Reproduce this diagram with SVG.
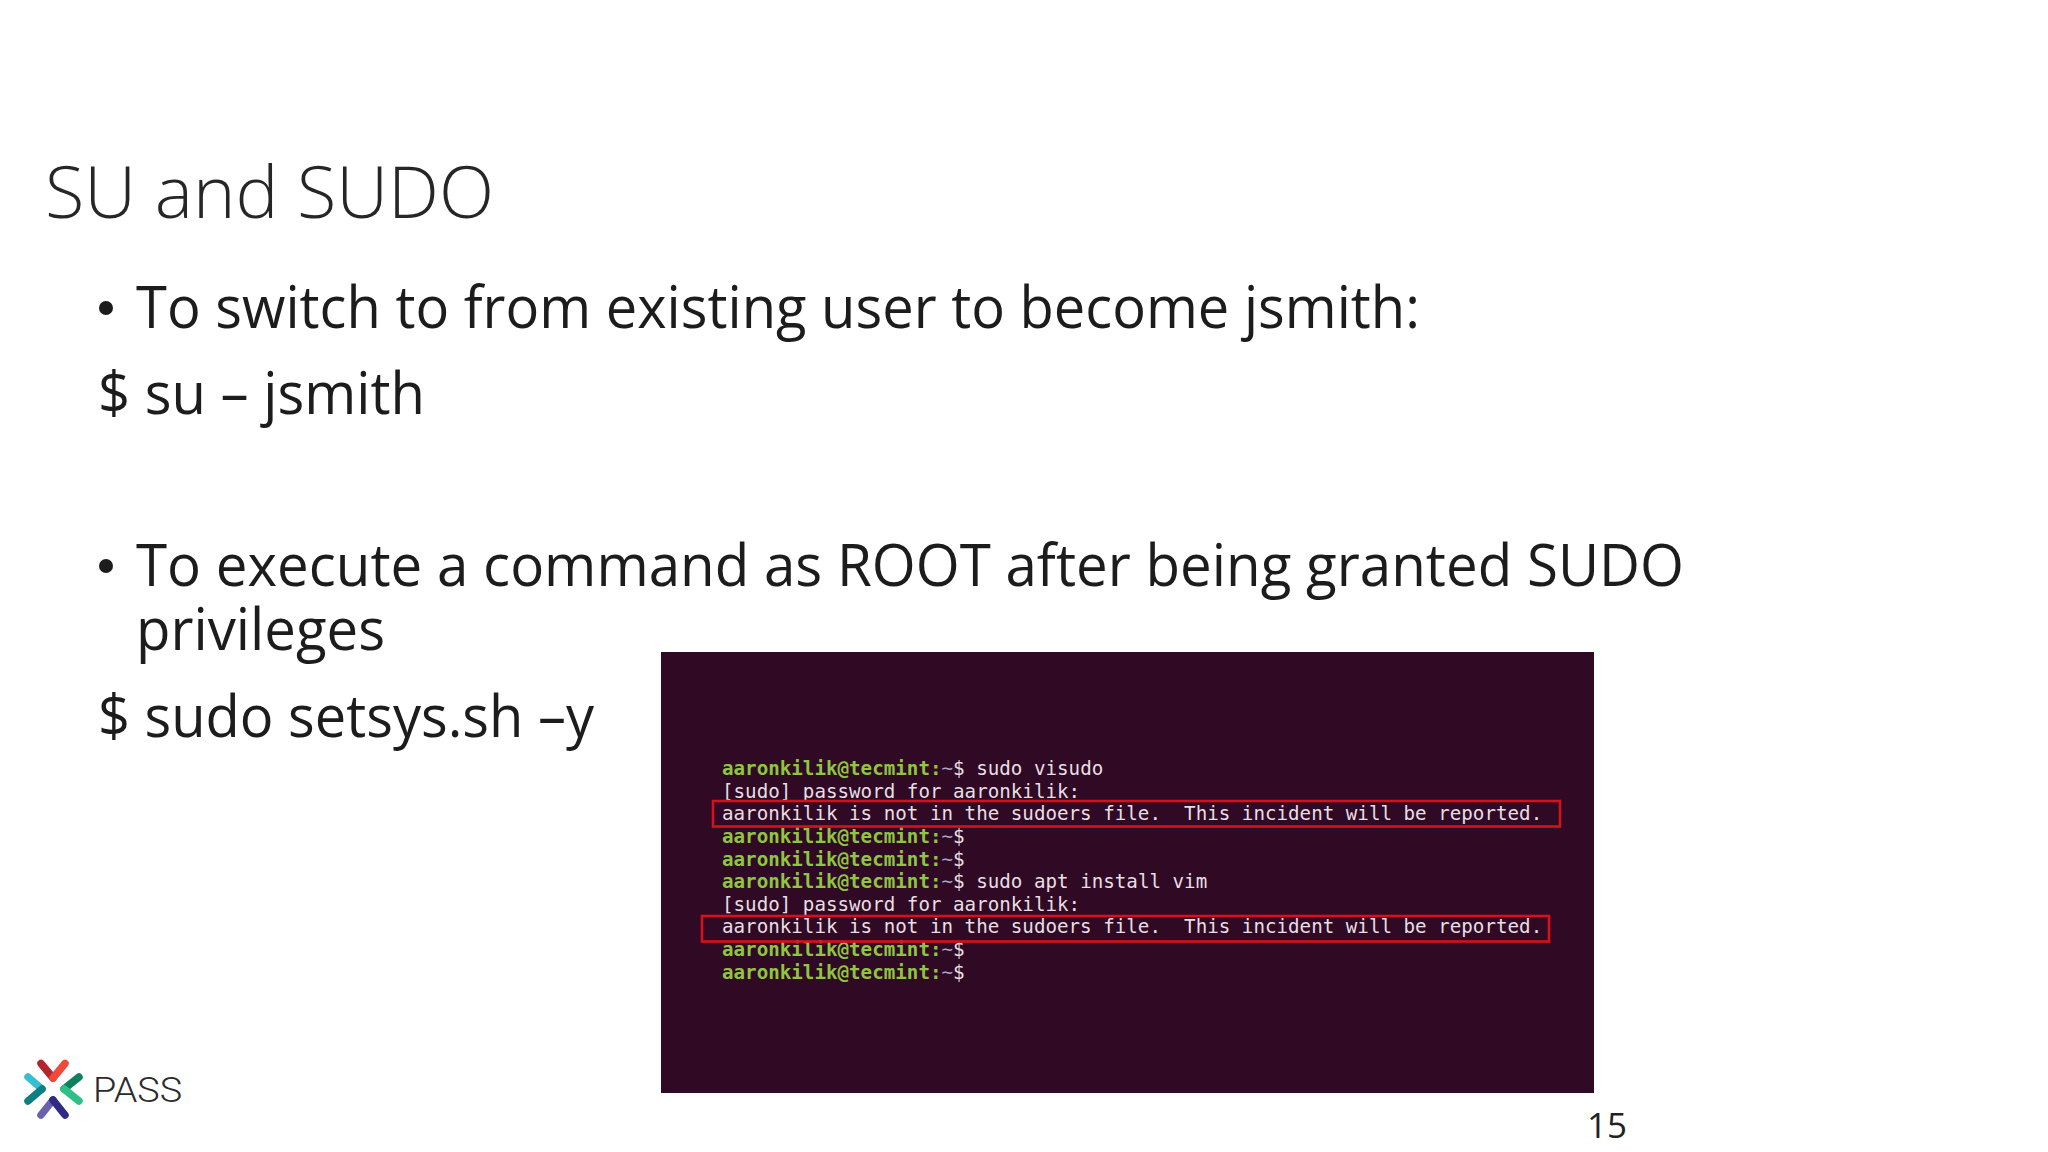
<svg xmlns="http://www.w3.org/2000/svg" width="2048" height="1152" viewBox="0 0 2048 1152">
<style>
.b{font-family:"Open Sans","Noto Sans",sans-serif;font-size:58px;fill:#1c1c1c}
.t{font-family:"DejaVu Sans Mono","Liberation Mono",monospace;font-size:19.2px;fill:#e6dfe3;white-space:pre}
.g{fill:#8ec63f;font-weight:bold}
.p{fill:#a8a8c8}
.r{fill:none;stroke:#d8101c;stroke-width:2.6}
.c{fill:none;stroke-width:7.5;stroke-linecap:round}
</style>
<rect width="2048" height="1152" fill="#fff"/>
<text id="title" x="45" y="218" font-family="'Open Sans','Noto Sans',sans-serif" font-weight="300" font-size="72" fill="#262626" textLength="449" lengthAdjust="spacingAndGlyphs">SU and SUDO</text>
<g id="body">
<circle cx="106" cy="308" r="7" fill="#1c1c1c"/>
<text class="b" x="136" y="328" textLength="1284" lengthAdjust="spacingAndGlyphs">To switch to from existing user to become jsmith:</text>
<text class="b" x="98" y="414" textLength="327" lengthAdjust="spacingAndGlyphs">$ su – jsmith</text>
<circle cx="106" cy="566" r="7" fill="#1c1c1c"/>
<text class="b" x="136" y="586" textLength="1548" lengthAdjust="spacingAndGlyphs">To execute a command as ROOT after being granted SUDO</text>
<text class="b" x="136" y="650" textLength="249" lengthAdjust="spacingAndGlyphs">privileges</text>
<text class="b" x="98" y="737" textLength="496" lengthAdjust="spacingAndGlyphs">$ sudo setsys.sh –y</text>
</g>
<g id="terminal">
<rect x="661" y="652" width="933" height="441" fill="#300a24"/>
<text class="t" x="722" y="775"><tspan class="g">aaronkilik@tecmint</tspan><tspan class="g">:</tspan><tspan class="p">~</tspan>$ sudo visudo</text>
<text class="t" x="722" y="798">[sudo] password for aaronkilik:</text>
<text class="t" x="722" y="820" xml:space="preserve">aaronkilik is not in the sudoers file.  This incident will be reported.</text>
<text class="t" x="722" y="843"><tspan class="g">aaronkilik@tecmint</tspan><tspan class="g">:</tspan><tspan class="p">~</tspan>$</text>
<text class="t" x="722" y="866"><tspan class="g">aaronkilik@tecmint</tspan><tspan class="g">:</tspan><tspan class="p">~</tspan>$</text>
<text class="t" x="722" y="888"><tspan class="g">aaronkilik@tecmint</tspan><tspan class="g">:</tspan><tspan class="p">~</tspan>$ sudo apt install vim</text>
<text class="t" x="722" y="911">[sudo] password for aaronkilik:</text>
<text class="t" x="722" y="933" xml:space="preserve">aaronkilik is not in the sudoers file.  This incident will be reported.</text>
<text class="t" x="722" y="956"><tspan class="g">aaronkilik@tecmint</tspan><tspan class="g">:</tspan><tspan class="p">~</tspan>$</text>
<text class="t" x="722" y="979"><tspan class="g">aaronkilik@tecmint</tspan><tspan class="g">:</tspan><tspan class="p">~</tspan>$</text>
<rect class="r" x="713" y="801" width="847" height="25.5"/>
<rect class="r" x="702" y="916" width="847" height="25.5"/>
</g>
<g id="logo">
<path class="c" stroke="#b5232f" d="M41 1063.5L53 1078"/>
<path class="c" stroke="#ef4a3c" d="M53 1078L65 1063.5"/>
<path class="c" stroke="#0e8060" d="M79 1077L64 1089"/>
<path class="c" stroke="#2fc088" d="M64 1089L79 1101"/>
<path class="c" stroke="#6a60b0" d="M41 1115L53 1100"/>
<path class="c" stroke="#2e2a85" d="M53 1100L65 1115"/>
<path class="c" stroke="#35bfd0" d="M28 1077L42 1089"/>
<path class="c" stroke="#0d7f80" d="M42 1089L28 1101"/>
<text x="93" y="1102" font-family="Roboto,Inter,sans-serif" font-weight="300" font-size="35" fill="#2b2b2b" textLength="89" lengthAdjust="spacingAndGlyphs">PASS</text>
</g>
<text id="page" x="1587" y="1138" font-family="'Open Sans','Noto Sans',sans-serif" font-size="35" fill="#222" textLength="40" lengthAdjust="spacingAndGlyphs">15</text>
</svg>
